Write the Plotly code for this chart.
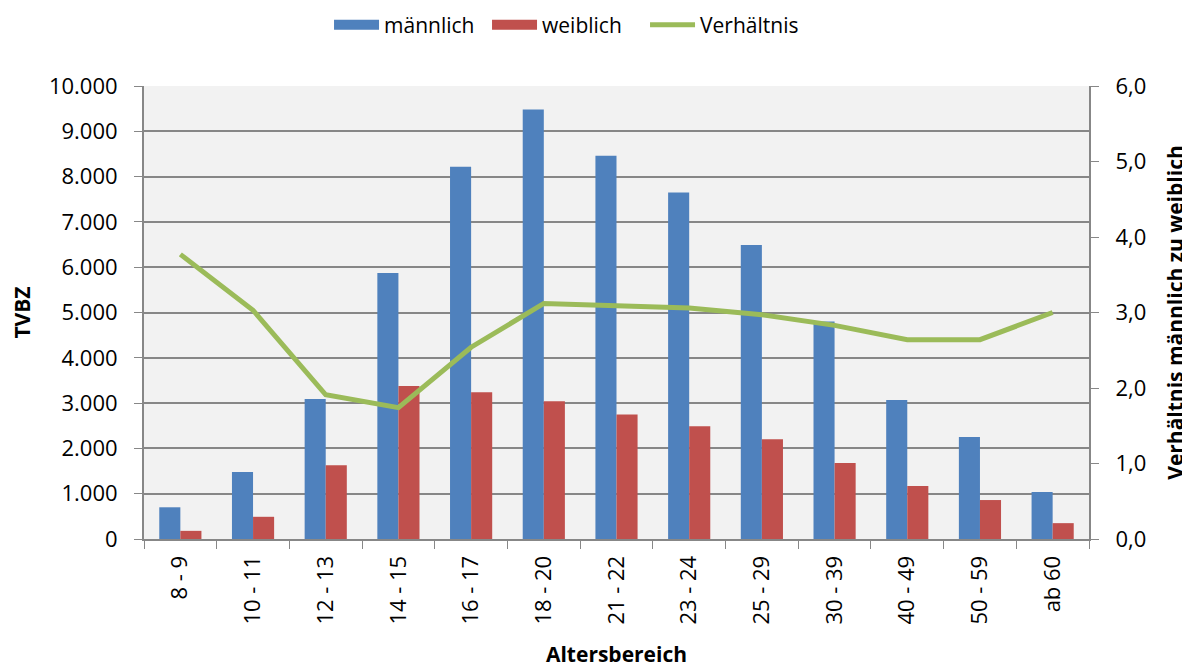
import plotly.graph_objects as go

# Altersbereiche und Werte
age_groups = ["8 - 9", "10 - 11", "12 - 13", "14 - 15", "16 - 17", "18 - 20", "21 - 22",
              "23 - 24", "25 - 29", "30 - 39", "40 - 49", "50 - 59", "ab 60"]
male = [700, 1480, 3090, 5870, 8220, 9480, 8460, 7650, 6490, 4800, 3070, 2250, 1040]
female = [180, 490, 1630, 3380, 3240, 3040, 2750, 2490, 2200, 1680, 1170, 860, 350]
ratio = [3.77, 3.03, 1.91, 1.74, 2.54, 3.12, 3.09, 3.06, 2.97, 2.83, 2.64, 2.64, 3.0]

FONT = "Open Sans"
GRID = "#878787"
BLUE, RED, GREEN = "#4F81BD", "#C0504D", "#9BBB59"

fig = go.Figure()

fig.add_trace(go.Bar(x=age_groups, y=male, name="männlich", showlegend=False,
                     marker=dict(color=BLUE, line=dict(width=0))))
fig.add_trace(go.Bar(x=age_groups, y=female, name="weiblich", showlegend=False,
                     marker=dict(color=RED, line=dict(width=0))))
fig.add_trace(go.Scatter(x=age_groups, y=ratio, name="Verhältnis", yaxis="y2",
                         mode="lines", line=dict(color=GREEN, width=5), showlegend=False))

# Legendeneinträge als breite Rechtecke wie im Original
for name, color, width in [("männlich", BLUE, 15), ("weiblich", RED, 15), ("Verhältnis", GREEN, 5)]:
    fig.add_trace(go.Scatter(x=[None], y=[None], name=name, mode="lines",
                             line=dict(color=color, width=width), hoverinfo="skip"))

# die Seite hat 8px Rand, deshalb etwas kleiner als das Fenster
fig.update_layout(
    width=1182, height=660,
    margin=dict(l=136, r=101, t=78, b=129),
    paper_bgcolor="white",
    plot_bgcolor="#F2F2F2",
    separators=",.",
    font=dict(family=FONT, size=22, color="black"),
    barmode="group",
    bargap=0.42,
    bargroupgap=0,
    legend=dict(orientation="h", xref="container", yref="container",
                x=0.2716, xanchor="left", y=0.974, yanchor="middle",
                font=dict(size=21), traceorder="normal", itemwidth=45,
                entrywidth=98, entrywidthmode="pixels"),
    xaxis=dict(
        title=dict(text="<b>Altersbereich</b>", font=dict(size=21), standoff=37),
        tickangle=-90, ticks="outside", tickson="boundaries", ticklen=8,
        tickcolor=GRID, showline=True, linecolor=GRID, linewidth=2,
        showgrid=False, automargin=False, ticklabelstandoff=6,
    ),
    yaxis=dict(
        title=dict(text="<b>TVBZ</b>", font=dict(size=21), standoff=26),
        range=[0, 10000], dtick=1000, tickformat=",d",
        ticks="outside", ticklen=8, tickcolor=GRID,
        showline=True, linecolor=GRID, linewidth=2,
        showgrid=True, gridcolor=GRID, gridwidth=1.5, zeroline=False,
        automargin=False, ticklabelstandoff=12,
    ),
    yaxis2=dict(
        title=dict(text="<b>Verhältnis männlich zu weiblich</b>", font=dict(size=21), standoff=23),
        overlaying="y", side="right",
        range=[0, 6], dtick=1, tickformat=".1f",
        ticks="outside", ticklen=8, tickcolor=GRID,
        showline=True, linecolor=GRID, linewidth=2,
        showgrid=False, zeroline=False, automargin=False, ticklabelstandoff=12,
    ),
)

fig.write_html("out.html")
